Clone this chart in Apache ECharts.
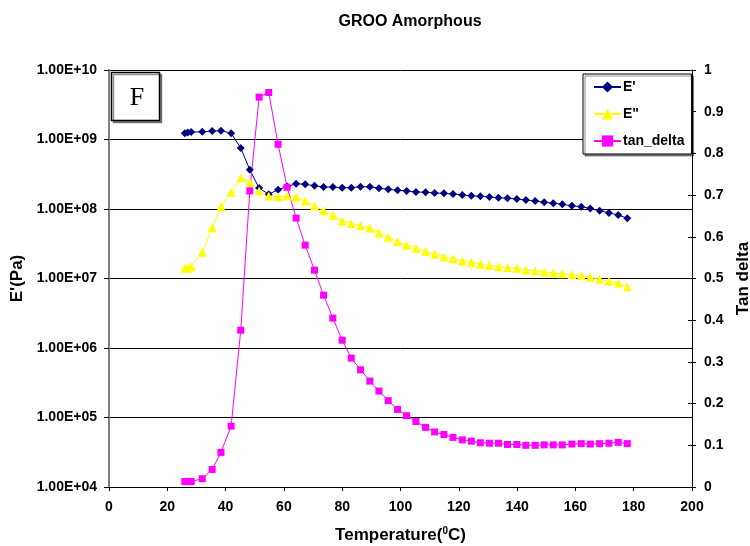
<!DOCTYPE html>
<html>
<head>
<meta charset="utf-8">
<title>GROO Amorphous</title>
<script src="https://cdn.jsdelivr.net/npm/echarts@6/dist/echarts.min.js"></script>
<style>
  html, body { margin: 0; padding: 0; background: #fff; }
  #chart { width: 750px; height: 546px; }
</style>
</head>
<body>
<div id="chart"></div>
<script>
// Temperature sweep (°C)
var temperature = [26.0, 27.0, 28.2, 32.0, 35.4, 38.4, 41.9, 45.2, 48.3, 51.5,
  54.8, 58.0, 61.1, 64.2, 67.3, 70.5, 73.6, 76.8, 80.0, 83.1,
  86.3, 89.5, 92.6, 95.8, 99.0, 102.1, 105.3, 108.6, 111.7, 114.9,
  118.0, 121.2, 124.3, 127.4, 130.5, 133.6, 136.7, 139.9, 143.0, 146.2,
  149.3, 152.4, 155.5, 158.8, 162.0, 165.1, 168.3, 171.5, 174.7, 177.8];

// Storage modulus E' (Pa)
var storageModulus = [1.23e9, 1.26e9, 1.28e9, 1.29e9, 1.32e9, 1.34e9, 1.23e9, 7.55e8, 3.67e8, 2.0e8,
  1.63e8, 1.90e8, 2.10e8, 2.31e8, 2.27e8, 2.16e8, 2.07e8, 2.07e8, 2.03e8, 2.03e8,
  2.09e8, 2.09e8, 1.99e8, 1.92e8, 1.86e8, 1.82e8, 1.76e8, 1.74e8, 1.70e8, 1.68e8,
  1.64e8, 1.59e8, 1.55e8, 1.52e8, 1.49e8, 1.45e8, 1.43e8, 1.39e8, 1.35e8, 1.30e8,
  1.25e8, 1.21e8, 1.17e8, 1.11e8, 1.08e8, 1.02e8, 9.46e7, 8.76e7, 8.20e7, 7.35e7];

// Loss modulus E" (Pa)
var lossModulus = [1.40e7, 1.41e7, 1.48e7, 2.38e7, 5.38e7, 1.08e8, 1.74e8, 2.82e8, 2.42e8, 1.82e8,
  1.54e8, 1.50e8, 1.54e8, 1.47e8, 1.30e8, 1.10e8, 9.46e7, 8.11e7, 6.72e7, 6.18e7,
  5.73e7, 5.33e7, 4.52e7, 3.92e7, 3.38e7, 3.03e7, 2.72e7, 2.46e7, 2.23e7, 2.06e7,
  1.93e7, 1.79e7, 1.71e7, 1.60e7, 1.55e7, 1.48e7, 1.43e7, 1.40e7, 1.33e7, 1.28e7,
  1.24e7, 1.21e7, 1.17e7, 1.13e7, 1.10e7, 1.04e7, 9.73e6, 9.12e6, 8.61e6, 7.62e6];

// Loss tangent
var tanDelta = [0.013, 0.013, 0.013, 0.020, 0.042, 0.083, 0.146, 0.376, 0.710, 0.935,
  0.946, 0.822, 0.719, 0.645, 0.580, 0.520, 0.460, 0.405, 0.352, 0.309,
  0.281, 0.254, 0.230, 0.207, 0.186, 0.171, 0.157, 0.143, 0.132, 0.126,
  0.119, 0.113, 0.110, 0.106, 0.105, 0.105, 0.102, 0.102, 0.100, 0.100,
  0.101, 0.101, 0.101, 0.103, 0.104, 0.103, 0.104, 0.105, 0.107, 0.104];

var seriesNames = ["E'", 'E"', 'tan_delta'];

function pairs(xs, ys) {
  return xs.map(function (x, i) { return [x, ys[i]]; });
}

// Excel-style scientific label: 1.00E+06
function sciLabel(v) {
  var e = Math.round(Math.log10(v));
  var m = v / Math.pow(10, e);
  var es = (e < 0 ? '-' : '+') + (Math.abs(e) < 10 ? '0' : '') + Math.abs(e);
  return m.toFixed(2) + 'E' + es;
}

var FONT = '"Liberation Sans", Arial, sans-serif';
var labelStyle = { color: '#000', fontFamily: FONT, fontWeight: 'bold', fontSize: 14 };
var nameStyle = { color: '#000', fontFamily: FONT, fontWeight: 'bold', fontSize: 17 };

var chart = echarts.init(document.getElementById('chart'), null, { renderer: 'canvas' });

var option = {
  backgroundColor: '#fff',
  animation: false,
  title: {
    text: 'GROO Amorphous',
    left: 405, top: 9, textAlign: 'center',
    textStyle: { color: '#000', fontFamily: FONT, fontWeight: 'bold', fontSize: 16 }
  },
  grid: { left: 109, right: 58, top: 70, bottom: 59, containLabel: false, outerBoundsMode: 'none' },
  legend: {
    orient: 'vertical',
    left: 583, top: 74,
    itemWidth: 27, itemHeight: 14,
    itemGap: 13,
    padding: [6, 7, 6, 10],
    backgroundColor: '#fff',
    borderColor: '#000', borderWidth: 1,
    shadowColor: 'rgba(0,0,0,0.45)', shadowOffsetX: 2, shadowOffsetY: 2, shadowBlur: 0,
    textStyle: { color: '#000', fontFamily: FONT, fontWeight: 'bold', fontSize: 14, padding: [0, 0, 0, -3] },
    data: seriesNames
  },
  xAxis: {
    type: 'value', min: 0, max: 200, interval: 20,
    name: '{t|Temperature(}{s|0}{t|C)}',
    nameLocation: 'middle', nameGap: 39,
    nameTextStyle: {
      rich: {
        t: { fontFamily: FONT, fontWeight: 'bold', fontSize: 17, color: '#000' },
        s: { fontFamily: FONT, fontWeight: 'bold', fontSize: 10, color: '#000', verticalAlign: 'top', padding: [0, 0, 8, 0] }
      }
    },
    axisLine: { lineStyle: { color: '#000', width: 1 } },
    axisTick: { inside: false, length: 4, lineStyle: { color: '#000' } },
    axisLabel: Object.assign({ margin: 13 }, labelStyle),
    splitLine: { show: false }
  },
  yAxis: [
    {
      type: 'log', logBase: 10, min: 1e4, max: 1e10,
      position: 'left',
      name: "E'(Pa)", nameLocation: 'middle', nameGap: 83, nameRotate: 90,
      nameTextStyle: nameStyle,
      axisLine: { show: true, lineStyle: { color: '#808080', width: 2 } },
      axisTick: { show: true, inside: false, length: 5, lineStyle: { color: '#000' } },
      axisLabel: Object.assign({ margin: 12, formatter: sciLabel }, labelStyle),
      splitLine: { show: true, lineStyle: { color: '#000', width: 1 } }
    },
    {
      type: 'value', min: 0, max: 1, interval: 0.1,
      position: 'right',
      name: 'Tan delta', nameLocation: 'middle', nameGap: 40, nameRotate: 90,
      nameTextStyle: nameStyle,
      axisLine: { show: true, lineStyle: { color: '#000', width: 1 } },
      axisTick: { show: true, inside: false, length: 4, lineStyle: { color: '#000' } },
      axisLabel: Object.assign({ margin: 12 }, labelStyle),
      splitLine: { show: false }
    },
    {
      // inner half of the crossing tick marks on the right axis
      type: 'value', min: 0, max: 1, interval: 0.1,
      position: 'right',
      axisLine: { show: false },
      axisTick: { show: true, inside: true, length: 4, lineStyle: { color: '#000' } },
      axisLabel: { show: false },
      splitLine: { show: false }
    }
  ],
  graphic: [
    {
      type: 'rect',
      shape: { x: 111.5, y: 72.5, width: 48, height: 48 },
      style: { fill: '#fff', stroke: '#000', lineWidth: 1.5,
        shadowColor: 'rgba(0,0,0,0.45)', shadowOffsetX: 2, shadowOffsetY: 2 },
      z: 10
    },
    {
      type: 'text',
      x: 137, y: 98,
      style: { text: 'F', font: '26px "Liberation Serif", "Times New Roman", serif',
        fill: '#000', align: 'center', verticalAlign: 'middle' },
      z: 11
    }
  ],
  series: [
    {
      name: seriesNames[0], type: 'line', yAxisIndex: 0,
      data: pairs(temperature, storageModulus),
      symbol: 'diamond', symbolSize: 8,
      itemStyle: { color: '#000080' },
      lineStyle: { color: '#000080', width: 1 }
    },
    {
      name: seriesNames[1], type: 'line', yAxisIndex: 0,
      data: pairs(temperature, lossModulus),
      symbol: 'triangle', symbolSize: 9,
      itemStyle: { color: '#FFFF00' },
      lineStyle: { color: '#FFFF00', width: 1 }
    },
    {
      name: seriesNames[2], type: 'line', yAxisIndex: 1,
      data: pairs(temperature, tanDelta),
      symbol: 'rect', symbolSize: 7,
      itemStyle: { color: '#FF00FF' },
      lineStyle: { color: '#FF00FF', width: 1 }
    }
  ]
};

chart.setOption(option);
</script>
</body>
</html>
